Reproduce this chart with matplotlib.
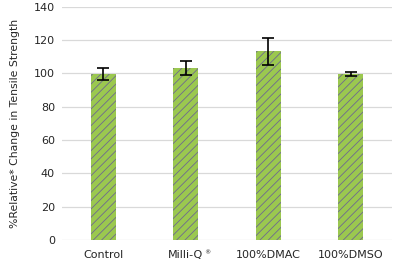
import matplotlib
matplotlib.use("Agg")
import matplotlib.pyplot as plt

plt.rcParams['hatch.linewidth'] = 0.6

categories = ["Control", "Milli-Q", "100%DMAC", "100%DMSO"]
values = [99.5, 103.2, 113.2, 99.6]
errors = [3.6, 4.3, 8.1, 1.3]

fig, ax = plt.subplots(figsize=(4, 2.65), dpi=100)
fig.subplots_adjust(left=0.155, right=0.98, top=0.975, bottom=0.095)

x = range(len(categories))
ax.bar(x, values, width=0.3, color='#9BC84F', edgecolor='#6E6A8E', hatch='////', linewidth=0, zorder=2)
ax.errorbar(x, values, yerr=errors, fmt='none', ecolor='black', elinewidth=1.2, capsize=4, capthick=1.2, zorder=3)

ax.set_xlim(-0.5, 3.5)
ax.set_ylim(0, 140)
ax.set_yticks(range(0, 141, 20))
ax.set_xticks(list(x))
ax.set_xticklabels(categories)
ax.grid(axis='y', color='#D9D9D9', linewidth=0.9, zorder=0)
ax.set_axisbelow(True)
for s in ax.spines.values():
    s.set_visible(False)
ax.tick_params(length=0, labelsize=8, colors='#262626', pad=5)
ax.tick_params(axis='x', pad=13)
for lbl in ax.get_xticklabels():
    lbl.set_va('baseline')

# small registered mark after Milli-Q
ax.annotate('\u00ae', xy=(1, 0), xycoords=('data', 'axes fraction'),
            xytext=(13.2, -10.5), textcoords='offset points', fontsize=4.5,
            color='#262626', ha='left', va='baseline', annotation_clip=False)

ax.set_ylabel("%Relative* Change in Tensile Strength", fontsize=7.8, color='#262626', labelpad=10)

fig.savefig("out.png")
